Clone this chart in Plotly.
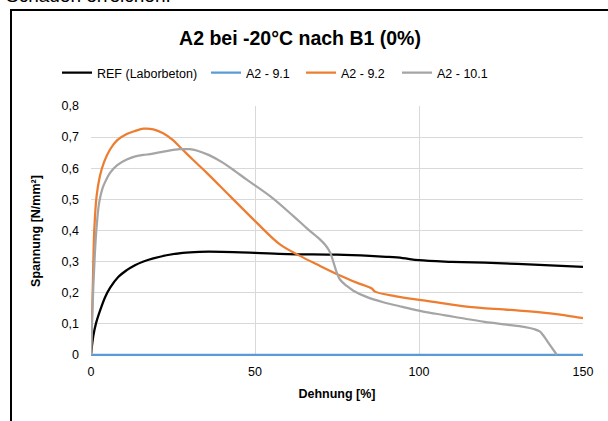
import plotly.graph_objects as go

# Dehnung [%] / Spannung [N/mm²]
ref_x = [0, 0.7, 1.5, 2.7, 4.3, 5.8, 8.3, 10.9, 13.4, 16, 19, 23, 28, 33, 40, 50, 60, 75, 85, 90, 95, 100, 110, 120, 135, 150]
ref_y = [0, 0.06, 0.1, 0.14, 0.185, 0.215, 0.25, 0.272, 0.288, 0.3, 0.31, 0.32, 0.328, 0.331, 0.331, 0.328, 0.324, 0.322, 0.318, 0.315, 0.311, 0.304, 0.299, 0.296, 0.290, 0.283]

a91_x = [0, 150]
a91_y = [0, 0]

a92_x = [0, 0.5, 1, 1.7, 2.7, 4, 5.8, 8, 10.9, 13.5, 16, 19, 22, 25, 27.1, 31, 35.3, 42.4, 50.5, 57.6, 63.7, 69, 75.9, 81, 85.6, 86.6, 93, 101.3, 114.5, 128, 140, 145, 150]
a92_y = [0, 0.2, 0.4, 0.51, 0.574, 0.62, 0.66, 0.69, 0.71, 0.72, 0.727, 0.725, 0.712, 0.69, 0.668, 0.628, 0.585, 0.51, 0.425, 0.355, 0.318, 0.29, 0.255, 0.232, 0.213, 0.203, 0.188, 0.175, 0.155, 0.144, 0.133, 0.126, 0.118]

a101_x = [0, 0.7, 1.2, 1.7, 2.5, 3.5, 4.5, 5.8, 8, 10.9, 13.5, 16, 18, 20, 23, 27.1, 30, 32.2, 36, 40.3, 44, 47.5, 54.6, 61.7, 66, 69.8, 71.5, 72.9, 74, 74.9, 75.9, 77.9, 80, 84, 89.1, 95, 101.3, 108, 114.5, 120, 126.7, 132, 135, 136.8, 137.9, 140, 142]
a101_y = [0, 0.22, 0.33, 0.41, 0.49, 0.535, 0.56, 0.585, 0.61, 0.628, 0.638, 0.643, 0.645, 0.649, 0.655, 0.661, 0.661, 0.657, 0.642, 0.617, 0.59, 0.563, 0.51, 0.446, 0.405, 0.371, 0.352, 0.329, 0.295, 0.265, 0.242, 0.222, 0.206, 0.186, 0.169, 0.154, 0.139, 0.127, 0.115, 0.106, 0.097, 0.09, 0.083, 0.075, 0.062, 0.03, 0]

y_ticks = [0, 0.1, 0.2, 0.3, 0.4, 0.5, 0.6, 0.7, 0.8]
y_labels = ["0", "0,1", "0,2", "0,3", "0,4", "0,5", "0,6", "0,7", "0,8"]
x_ticks = [0, 50, 100, 150]

serien = [
    ("REF (Laborbeton)", ref_x, ref_y, "#000000"),
    ("A2 - 9.1", a91_x, a91_y, "#5b9bd5"),
    ("A2 - 9.2", a92_x, a92_y, "#ed7d31"),
    ("A2 - 10.1", a101_x, a101_y, "#a5a5a5"),
]

W, H = 608, 421
L, R, T, B = 91, 25, 106, 65
pw, ph = W - L - R, H - T - B

# Legendeneintraege einzeln platziert (linker Rand in Pixeln)
legend_px = [57, 206, 301, 397]
legend_ids = ["legend", "legend2", "legend3", "legend4"]

fig = go.Figure()
for (name, xs, ys, farbe), lid in zip(serien, legend_ids):
    fig.add_trace(go.Scatter(x=xs, y=ys, mode="lines", name=name, legend=lid, showlegend=True,
                             line=dict(color=farbe, width=2.25, shape="spline", smoothing=1.0)))

legend_cfg = {}
for lid, px in zip(legend_ids, legend_px):
    legend_cfg[lid] = dict(orientation="h", xref="container", yref="container",
                           x=px / W, xanchor="left", y=1 - 73 / H, yanchor="middle",
                           font=dict(size=12.5, color="#000000"), itemwidth=30,
                           bgcolor="rgba(0,0,0,0)")

fig.update_layout(
    width=W, height=H,
    showlegend=True,
    margin=dict(l=L, r=R, t=T, b=B, autoexpand=False),
    paper_bgcolor="white", plot_bgcolor="white",
    font=dict(family="Liberation Sans, Arial, sans-serif", color="#000000", size=12.5),
    title=dict(text="<b>A2 bei -20°C nach B1 (0%)</b>", x=300 / W, xanchor="center",
               y=1 - 38 / H, yanchor="middle", font=dict(size=19.5, color="#000000")),
    **legend_cfg,
)

fig.update_xaxes(range=[0, 150], tickvals=x_ticks,
                 showgrid=True, gridcolor="#d9d9d9", gridwidth=1, zeroline=False,
                 showline=False, ticks="", automargin=False, ticklabelstandoff=6,
                 tickfont=dict(size=12.5, color="#000000"),
                 title=dict(text="<b>Dehnung [%]</b>", font=dict(size=12.5, color="#000000"), standoff=11))
fig.update_yaxes(range=[-0.004, 0.8], tickvals=y_ticks, ticktext=y_labels,
                 showgrid=True, gridcolor="#d9d9d9", gridwidth=1, zeroline=False,
                 showline=False, ticks="", automargin=False, ticklabelstandoff=11,
                 tickfont=dict(size=12.5, color="#000000"),
                 title=dict(text="<b>Spannung [N/mm²]</b>", font=dict(size=12.5, color="#000000"), standoff=18))

# Rahmen um das Diagramm (rechts und unten ausserhalb des Bildes)
fig.add_shape(type="rect", xref="paper", yref="paper",
              x0=(11 - L) / pw, x1=1.2, y0=-0.4, y1=(H - B - 10) / ph,
              line=dict(color="#000000", width=2), fillcolor="rgba(0,0,0,0)")

# abgeschnittener Fliesstext ueber dem Diagramm
fig.add_annotation(text="Schaden erreichen.", xref="paper", yref="paper",
                   x=(4 - L) / pw, xanchor="left", y=(H - B - 8) / ph, yanchor="bottom",
                   showarrow=False, font=dict(size=19, color="#000000"))

fig.write_html("out.html", config={"displayModeBar": False},
               post_script="document.body.style.margin='0';")
